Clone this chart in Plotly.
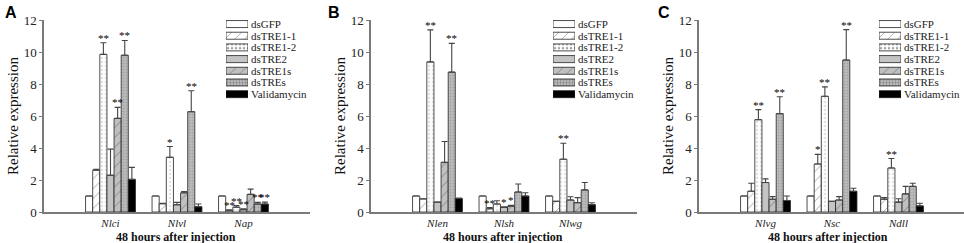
import plotly.graph_objects as go

W, H = 964, 243

series = ["dsGFP", "dsTRE1-1", "dsTRE1-2", "dsTRE2", "dsTRE1s", "dsTREs", "Validamycin"]

genes_A = ["Nlci", "Nlvl", "Nap"]
genes_B = ["Nlen", "Nlsh", "Nlwg"]
genes_C = ["Nlvg", "Nsc", "Ndll"]

# values per series (one list per series, across genes)
val_A = [[1.0, 1.0, 1.0], [2.62, 0.52, 0.08], [9.85, 3.42, 0.30], [2.30, 0.45, 0.15],
         [5.85, 1.20, 1.10], [9.80, 6.27, 0.50], [2.04, 0.33, 0.50]]
err_A = [[0, 0, 0], [0.05, 0.03, 0.05], [0.73, 0.67, 0.10], [1.63, 0.15, 0.05],
         [0.69, 0.08, 0.33], [0.92, 1.31, 0.10], [0.75, 0.17, 0.12]]
sig_A = [["", "", ""], ["", "", "**"], ["**", "*", "**"], ["", "", "**"],
         ["**", "", ""], ["**", "**", "**"], ["", "", "**"]]

val_B = [[1.0, 1.0, 1.0], [0.82, 0.20, 0.67], [9.38, 0.50, 3.30], [0.62, 0.28, 0.75],
         [3.10, 0.37, 0.58], [8.74, 1.25, 1.38], [0.84, 1.00, 0.46]]
err_B = [[0, 0, 0], [0, 0.08, 0], [2.00, 0.20, 1.00], [0, 0.04, 0.20],
         [1.31, 0.05, 0.32], [1.80, 0.50, 0.46], [0.03, 0.20, 0.12]]
sig_B = [["", "", ""], ["", "**", ""], ["**", "", "**"], ["", "*", ""],
         ["", "*", ""], ["**", "", ""], ["", "", ""]]

val_C = [[1.0, 1.0, 1.0], [1.30, 3.00, 0.80], [5.77, 7.23, 2.75], [1.84, 0.67, 0.62],
         [0.80, 0.75, 1.13], [6.15, 9.50, 1.60], [0.72, 1.30, 0.38]]
err_C = [[0, 0, 0], [0.50, 0.60, 0.10], [0.63, 0.59, 0.59], [0.23, 0, 0.21],
         [0.16, 0.21, 0.47], [1.05, 1.90, 0.20], [0.28, 0.18, 0.17]]
sig_C = [["", "", ""], ["", "*", ""], ["**", "**", "**"], ["", "", ""],
         ["", "", ""], ["**", "**", ""], ["", "", ""]]

y_ticks = [0, 2, 4, 6, 8, 10, 12]
panel_letters = ["A", "B", "C"]
x_title = "48 hours after injection"
y_title = "Relative expression"

# styles per series
bg = ["#ffffff", "#ffffff", "#ffffff", "#c4c4c4", "#c0c0c0", "#bdbdbd", "#000000"]
shape = ["", "/", ".", "", "/", ".", ""]
fg = ["#000000", "#333333", "#c4c4c4", "#000000", "#333333", "#8a8a8a", "#000000"]
psize = [8, 7, 4, 8, 7, 3, 8]
psol = [0.3, 0.12, 0.3, 0.3, 0.12, 0.4, 0.3]

SERIF = "Liberation Serif"

def px(x):
    return x / W

def py(y):
    return 1 - y / H

panels = [
    dict(genes=genes_A, val=val_A, err=err_A, sig=sig_A, x0=44, x1=310, leg=226, letter=11, xt=176),
    dict(genes=genes_B, val=val_B, err=err_B, sig=sig_B, x0=371, x1=637, leg=553, letter=334, xt=503),
    dict(genes=genes_C, val=val_C, err=err_C, sig=sig_C, x0=699, x1=964, leg=879, letter=664, xt=828),
]

fig = go.Figure()
layout = dict(width=W, height=H, margin=dict(l=0, r=0, t=0, b=0, autoexpand=False),
              paper_bgcolor="white", plot_bgcolor="rgba(0,0,0,0)",
              barmode="group", bargap=0.25, bargroupgap=0, showlegend=False)
annotations = []

BARGAP = 0.25
n = len(series)
bw = (1 - BARGAP) / n
ydom = [py(212), py(20)]

for p_i, p in enumerate(panels):
    k = p_i + 1
    xa = "x" if k == 1 else f"x{k}"
    ya = "y" if k == 1 else f"y{k}"
    xs = list(range(len(p["genes"])))
    for j, s in enumerate(series):
        fig.add_trace(go.Bar(
            x=xs, y=p["val"][j], name=s, xaxis=xa, yaxis=ya,
            marker=dict(color=bg[j], line=dict(color="#222222", width=0.8),
                        pattern=dict(shape=shape[j], fgcolor=fg[j], bgcolor=bg[j],
                                     size=psize[j], solidity=psol[j], fillmode="overlay")),
            error_y=dict(type="data", symmetric=False, array=p["err"][j],
                         arrayminus=[0] * len(xs), color="#444444", thickness=1.1, width=3,
                         visible=True),
        ))
        for i, g in enumerate(p["genes"]):
            st = p["sig"][j][i]
            if st:
                annotations.append(dict(
                    x=i - (1 - BARGAP) / 2 + bw * (j + 0.5),
                    y=p["val"][j][i] + p["err"][j][i],
                    xref=xa, yref=ya, text=st, showarrow=False,
                    yanchor="bottom", yshift=-3,
                    font=dict(family=SERIF, size=11, color="#000000")))
    # axes
    rng_right = -1 + 4 * (p["x1"] - p["x0"]) / 266
    layout["xaxis" if k == 1 else f"xaxis{k}"] = dict(
        domain=[px(p["x0"]), px(p["x1"])], range=[-1, rng_right], anchor=ya,
        tickmode="array", tickvals=xs, ticktext=[f"<i>{g}</i>" for g in p["genes"]],
        ticks="", showline=True, linecolor="#7a7a7a", linewidth=1.5,
        showgrid=False, zeroline=False, automargin=False,
        tickfont=dict(family=SERIF, size=11, color="#222"))
    layout["yaxis" if k == 1 else f"yaxis{k}"] = dict(
        domain=ydom, range=[0, 12], anchor=xa, tickmode="array", tickvals=y_ticks,
        ticks="outside", ticklen=3, tickcolor="#7a7a7a", showline=True,
        linecolor="#7a7a7a", linewidth=1.5, showgrid=False, zeroline=False,
        automargin=False,
        tickfont=dict(family=SERIF, size=13, color="#222"))

    # legend swatches
    lk = k + 3
    lxa, lya = f"x{lk}", f"y{lk}"
    fig.add_trace(go.Bar(
        x=[1] * n, y=series, orientation="h", width=0.6, xaxis=lxa, yaxis=lya,
        marker=dict(color=bg, line=dict(color="#222222", width=0.8),
                    pattern=dict(shape=shape, fgcolor=fg, bgcolor=bg, size=psize,
                                 solidity=psol, fillmode="overlay")),
        hoverinfo="skip"))
    layout[f"xaxis{lk}"] = dict(domain=[px(p["leg"]), px(p["leg"] + 22)], range=[0, 1],
                                anchor=lya, visible=False, fixedrange=True, automargin=False)
    layout[f"yaxis{lk}"] = dict(domain=[py(100), py(18.2)], anchor=lxa, side="right",
                                autorange="reversed", type="category",
                                tickmode="array", tickvals=series, ticktext=series,
                                showline=False, showgrid=False, zeroline=False, ticks="",
                                ticklabelstandoff=2, automargin=False,
                                tickfont=dict(family=SERIF, size=11, color="#222"))

    # titles / letter
    annotations.append(dict(x=px(p["xt"]), y=py(237), xref="paper", yref="paper",
                            text=f"<b>{x_title}</b>", showarrow=False,
                            xanchor="center", yanchor="middle",
                            font=dict(family=SERIF, size=12, color="#111")))
    annotations.append(dict(x=px(p["x0"] - 31), y=py(116), xref="paper", yref="paper",
                            text=y_title, showarrow=False, textangle=-90,
                            xanchor="center", yanchor="middle",
                            font=dict(family=SERIF, size=15, color="#111")))
    annotations.append(dict(x=px(p["letter"]), y=py(12), xref="paper", yref="paper",
                            text=f"<b>{panel_letters[p_i]}</b>", showarrow=False,
                            xanchor="center", yanchor="middle",
                            font=dict(family="Liberation Sans", size=16, color="#000")))

layout["annotations"] = annotations
fig.update_layout(**layout)
fig.write_html("out.html", config={"displayModeBar": False},
               post_script="document.body.style.margin='0px';document.body.style.overflow='hidden';")
